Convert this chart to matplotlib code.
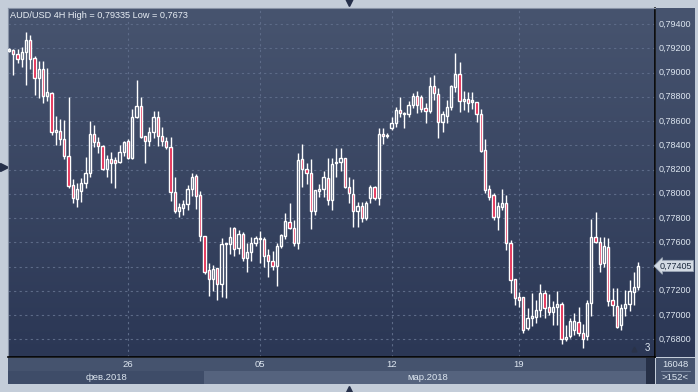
import numpy as np
import matplotlib.pyplot as plt
from matplotlib.colors import LinearSegmentedColormap
from matplotlib.patches import Rectangle

plt.rcParams['font.family'] = ['Liberation Sans', 'DejaVu Sans']

# AUD/USD 4H candles, prices in 1e-5 (points)
opens = [79181, 79186, 79150, 79109, 79172, 79268, 79117, 78957, 79026, 78809,
         78833, 78512, 78518, 78449, 78311, 78072, 77954, 78025, 78086, 78169,
         78490, 78429, 78396, 78202, 78284, 78276, 78264, 78342, 78435, 78292,
         78631, 78724, 78476, 78435, 78507, 78636, 78476, 78435, 78383, 78017,
         77860, 77885, 77916, 78037, 78147, 77990, 77652, 77371, 77295, 77385,
         77253, 77583, 77583, 77715, 77550, 77665, 77468, 77522, 77591, 77624,
         77624, 77495, 77448, 77407, 77569, 77652, 77767, 77715, 77596, 78284,
         78204, 78174, 77860, 78025, 78039, 78132, 77949, 78251, 78264, 78292,
         78053, 77996, 77860, 77902, 77798, 77962, 78058, 77962, 78493, 78476,
         78545, 78581, 78691, 78658, 78658, 78732, 78806, 78800, 78710, 78683,
         78889, 78820, 78594, 78644, 78713, 78883, 78985, 78767, 78779, 78759,
         78754, 78655, 78361, 78037, 77990, 77811, 77893, 77921, 77596, 77295,
         77146, 77146, 76890, 76973, 76986, 77041, 77179, 77064, 77027, 77064,
         77088, 76802, 76827, 76876, 76945, 76854, 76827, 77097, 77641, 77605,
         77427, 77558, 77124, 77074, 76918, 77055, 77088, 77192, 77234]
highs = [79202, 79194, 79191, 79208, 79335, 79309, 79136, 79095, 79095, 79035,
         78842, 78641, 78617, 78608, 78795, 78119, 78086, 78127, 78306, 78600,
         78567, 78466, 78400, 78320, 78342, 78301, 78402, 78435, 78452, 78697,
         78938, 78795, 78480, 78553, 78683, 78683, 78548, 78471, 78466, 78141,
         77926, 77949, 78072, 78174, 78161, 78025, 77655, 77427, 77413, 77390,
         77633, 77596, 77728, 77728, 77701, 77687, 77591, 77646, 77652, 77695,
         77646, 77542, 77528, 77591, 77665, 77839, 77921, 77784, 78339, 78410,
         78251, 78284, 78035, 78078, 78188, 78292, 78297, 78375, 78375, 78295,
         78136, 78119, 77934, 77934, 77940, 78072, 78064, 78540, 78540, 78504,
         78636, 78718, 78800, 78677, 78767, 78828, 78847, 78814, 78746, 78965,
         78979, 78870, 78683, 78773, 78897, 79158, 79084, 78847, 78842, 78839,
         78759, 78697, 78449, 78072, 78009, 77934, 78037, 77990, 77619, 77300,
         77192, 77150, 77055, 77179, 77124, 77253, 77206, 77173, 77116, 77200,
         77107, 76918, 76975, 77017, 77066, 76926, 77124, 77792, 77852, 77641,
         77641, 77633, 77220, 77220, 77091, 77206, 77289, 77357, 77440]
lows = [79169, 78979, 79081, 79048, 78897, 79029, 78815, 78792, 78746, 78765,
        78485, 78402, 78402, 78284, 78045, 77921, 77893, 77934, 78050, 78136,
        78388, 78334, 78195, 78141, 78091, 78045, 78256, 78314, 78285, 78285,
        78625, 78460, 78256, 78396, 78457, 78396, 78396, 78367, 77940, 77844,
        77806, 77825, 77866, 77982, 77874, 77610, 77336, 77159, 77200, 77124,
        77151, 77143, 77503, 77487, 77500, 77448, 77357, 77448, 77569, 77431,
        77393, 77316, 77371, 77242, 77555, 77624, 77707, 77572, 77544, 78053,
        78080, 77709, 77825, 77976, 77976, 77907, 77866, 78141, 78188, 78048,
        77926, 77728, 77728, 77770, 77784, 77921, 77949, 77907, 78408, 78457,
        78526, 78553, 78631, 78545, 78636, 78705, 78668, 78677, 78586, 78664,
        78773, 78462, 78512, 78581, 78691, 78842, 78677, 78691, 78677, 78699,
        78594, 78344, 78009, 77949, 77784, 77701, 77866, 77536, 77179, 77083,
        77069, 76854, 76876, 76912, 76932, 76986, 76975, 77000, 76918, 76918,
        76761, 76788, 76808, 76835, 76827, 76730, 76794, 76992, 77591, 77357,
        77398, 77074, 76992, 76890, 76876, 76992, 77036, 77083, 77206]
closes = [79188, 79150, 79111, 79172, 79268, 79111, 78957, 79026, 78809, 78839,
          78512, 78526, 78449, 78314, 78066, 77962, 78037, 78086, 78169, 78490,
          78429, 78396, 78202, 78284, 78256, 78256, 78342, 78429, 78292, 78631,
          78724, 78466, 78435, 78507, 78636, 78476, 78438, 78383, 78017, 77858,
          77888, 77916, 78037, 78136, 77984, 77652, 77357, 77295, 77377, 77253,
          77583, 77591, 77641, 77542, 77668, 77468, 77517, 77591, 77633, 77633,
          77487, 77448, 77407, 77569, 77660, 77775, 77715, 77596, 78278, 78202,
          78169, 77860, 78031, 78039, 78136, 77949, 78243, 78259, 78292, 78053,
          78004, 77860, 77902, 77798, 77921, 78058, 77962, 78493, 78476, 78485,
          78581, 78691, 78664, 78664, 78732, 78806, 78732, 78697, 78683, 78889,
          78828, 78594, 78655, 78718, 78889, 78985, 78767, 78781, 78751, 78765,
          78655, 78355, 78031, 77976, 77811, 77899, 77921, 77596, 77289, 77138,
          77124, 76876, 76973, 76992, 77041, 77179, 77060, 77027, 77064, 77088,
          76800, 76821, 76951, 76951, 76849, 76800, 77102, 77641, 77605, 77418,
          77569, 77116, 77083, 76904, 77055, 77088, 77198, 77229, 77405]

price_levels = [0.768, 0.770, 0.772, 0.774, 0.776, 0.778, 0.780, 0.782,
                0.784, 0.786, 0.788, 0.790, 0.792, 0.794]
week_idx = [28, 59, 90, 120]
week_labels = ['26', '05', '12', '19']
month_idx = [23, 98.5]
month_labels = ['фев.2018', 'мар.2018']
title = 'AUD/USD 4H High = 0,79335 Low = 0,7673'

o = np.array(opens) / 1e5
h = np.array(highs) / 1e5
l = np.array(lows) / 1e5
c = np.array(closes) / 1e5
x = np.arange(len(o))

W, H = 698, 392
def box(x0, y0, x1, y1):
    return [x0 / W, 1 - y1 / H, (x1 - x0) / W, (y1 - y0) / H]

fig = plt.figure(figsize=(6.98, 3.92), dpi=100, facecolor='#c4cdd9')
bg = LinearSegmentedColormap.from_list('bg', ['#2b3755', '#47546f'])
grad = np.linspace(0, 1, 256).reshape(-1, 1)
xlim = (-0.24, 152.0)
ylim = (0.76654, 0.79532)
txt = '#dde6f0'

# main chart
ax = fig.add_axes(box(8, 8, 655, 357))
ax.imshow(grad, cmap=bg, origin='lower', aspect='auto', extent=[0, 1, 0, 1],
          transform=ax.transAxes, zorder=0)
ax.set_xlim(*xlim)
ax.set_ylim(*ylim)
ax.set_xticks(week_idx)
ax.set_yticks(price_levels)
ax.tick_params(length=0, labelbottom=False, labelleft=False)
ax.grid(True, color='#5d6b88', linestyle=(0, (2, 3)), linewidth=0.8, zorder=1)
for s in ['left', 'top']:
    ax.spines[s].set_color('#8893a6')
for s in ['right', 'bottom']:
    ax.spines[s].set_color('black')
    ax.spines[s].set_linewidth(1.2)

lo = np.minimum(o, c)
hi = np.maximum(o, c)
up = c >= o
ax.vlines(x, hi, h, color='white', lw=1, zorder=2)
ax.vlines(x, l, lo, color='white', lw=1, zorder=2)
height = np.maximum(hi - lo, 0.00012)
ax.bar(x[up], height[up], bottom=lo[up], width=0.52, facecolor='none',
       edgecolor='white', linewidth=1.0, zorder=3)
ax.bar(x[~up], height[~up], bottom=lo[~up], width=0.52, facecolor='#e0123e',
       edgecolor='white', linewidth=1.0, zorder=3)

ax.text(0.003, 0.992, title, transform=ax.transAxes, va='top', ha='left',
        fontsize=6.6, color='#e8eef5')
ax.text(0.993, 0.012, '3', transform=ax.transAxes, ha='right', va='bottom',
        fontsize=7, color=txt)
ax.plot([0.968], [0.022], marker='^', ms=3.5, color='#2a3349',
        transform=ax.transAxes, clip_on=False)

# right price scale
axr = fig.add_axes(box(656, 8, 695, 357))
axr.imshow(grad, cmap=bg, origin='lower', aspect='auto', extent=[0, 1, 0, 1],
           transform=axr.transAxes, zorder=0)
axr.set_xlim(0, 1)
axr.set_ylim(*ylim)
axr.set_xticks([])
axr.set_yticks([])
for s in axr.spines.values():
    s.set_visible(False)
for v in price_levels:
    if abs(v - c[-1]) < 0.0006:
        continue  # hidden behind the current price tag
    axr.text(0.06, v, f'{v:.5f}'.replace('.', ','), va='center', ha='left',
             fontsize=6.5, color=txt)
axr.text(0.1, c[-1], f'{c[-1]:.5f}'.replace('.', ','), va='center', ha='left',
         fontsize=6.5, color='#1c2a3e',
         bbox=dict(boxstyle='larrow,pad=0.12', fc='#d3dae3', ec='#9aa5b5', lw=0.6))

# date strip
axb = fig.add_axes(box(8, 358, 655, 384))
axb.set_facecolor('#45536e')
axb.set_xlim(*xlim)
axb.set_ylim(0, 1)
axb.set_xticks([])
axb.set_yticks([])
for s in axb.spines.values():
    s.set_visible(False)
axb.add_patch(Rectangle((0, 0), (204 - 8) / 647, 0.5, transform=axb.transAxes,
                        color='#3e4c68', lw=0))
axb.add_patch(Rectangle(((204 - 8) / 647, 0), (646 - 204) / 647, 0.5,
                        transform=axb.transAxes, color='#55637e', lw=0))
axb.add_patch(Rectangle(((646 - 8) / 647, 0), 9 / 647, 1, transform=axb.transAxes,
                        color='#263047', lw=0))
for xi, lab in zip(week_idx, week_labels):
    axb.text(xi, 0.74, lab, ha='center', va='center', fontsize=6.8, color=txt)
for xi, lab in zip(month_idx, month_labels):
    axb.text(xi, 0.26, lab, ha='center', va='center', fontsize=6.8, color=txt)

# bounds box bottom right
axc = fig.add_axes(box(656, 358, 695, 384))
axc.set_facecolor('#45536e')
axc.set_xticks([])
axc.set_yticks([])
for s in axc.spines.values():
    s.set_visible(False)
axc.text(0.5, 0.76, '16048', ha='center', va='center', fontsize=6.8, color=txt)
axc.text(0.5, 0.24, '>152<', ha='center', va='center', fontsize=6.8, color=txt)
axc.plot([0.12, 0.88], [0.5, 0.5], color='#8391a8', lw=0.6)
axc.set_xlim(0, 1)
axc.set_ylim(0, 1)

# small navigation arrows around the frame
deco = fig.add_axes([0, 0, 1, 1], zorder=-1)
deco.set_xlim(0, W)
deco.set_ylim(H, 0)
deco.axis('off')
deco.plot([349], [2], marker='v', ms=6, color='#26304a')
deco.plot([349], [390], marker='^', ms=6, color='#26304a')
deco.plot([3.5], [167], marker='>', ms=6, color='#26304a')

fig.savefig('out.png', dpi=100, facecolor=fig.get_facecolor())
